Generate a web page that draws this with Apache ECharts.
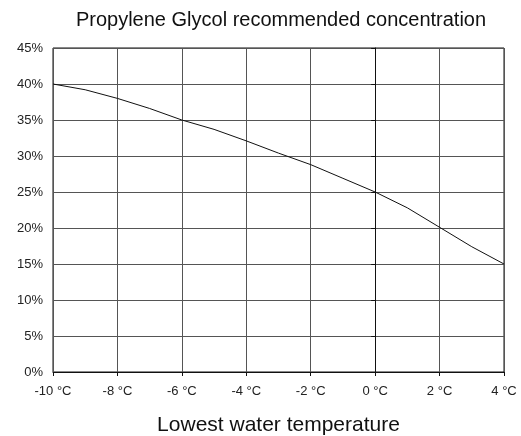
<!DOCTYPE html>
<html>
<head>
<meta charset="utf-8">
<script src="https://cdn.jsdelivr.net/npm/echarts@6/dist/echarts.min.js"></script>
<style>
  html, body { margin: 0; padding: 0; background: #fff; }
  #chart { width: 521px; height: 436px; }
</style>
</head>
<body>
<div id="chart"></div>
<script>
// lowest water temperature (°C) and recommended glycol concentration (%)
const temps = [-10, -9, -8, -7, -6, -5, -4, -3, -2, -1, 0, 1, 2, 3, 4]
const concentration = [40, 39.2, 38, 36.6, 35, 33.7, 32.1, 30.4, 28.8, 26.9, 25, 22.8, 20.1, 17.4, 15]

const chart = echarts.init(document.getElementById('chart'))

chart.setOption({
  backgroundColor: '#fff',
  animation: false,
  title: {
    text: 'Propylene Glycol recommended concentration',
    left: 276,
    textAlign: 'center',
    top: 5,
    textStyle: { color: '#111', fontSize: 20, fontWeight: 'normal', fontFamily: 'Liberation Sans' }
  },
  grid: {
    left: 53, right: 17, top: 48, bottom: 64,
    outerBoundsMode: 'none',
    containLabel: false,
    show: true, borderColor: '#111', borderWidth: 1
  },
  xAxis: {
    type: 'value',
    min: -10, max: 4, interval: 2,
    name: 'Lowest water temperature',
    nameLocation: 'middle',
    nameGap: 43,
    nameTextStyle: { color: '#111', fontSize: 21, fontFamily: 'Liberation Sans' },
    axisLine: { lineStyle: { color: '#111' } },
    axisTick: { show: true, length: 4, lineStyle: { color: '#111' } },
    axisLabel: { color: '#222', fontSize: 13, fontFamily: 'Liberation Sans', margin: 13, formatter: '{value} °C' },
    splitLine: { lineStyle: { color: '#555', width: 1 } }
  },
  yAxis: {
    type: 'value',
    min: 0, max: 45, interval: 5,
    axisLine: { show: true, lineStyle: { color: '#111' } },
    axisTick: { show: true, length: 4, lineStyle: { color: '#111' } },
    axisLabel: { color: '#222', fontSize: 13, fontFamily: 'Liberation Sans', margin: 10, formatter: '{value}%' },
    splitLine: { lineStyle: { color: '#555', width: 1 } }
  },
  series: [
    {
      type: 'line',
      data: temps.map((t, i) => [t, concentration[i]]),
      showSymbol: false,
      lineStyle: { color: '#111', width: 1 }
    }
  ]
})
</script>
</body>
</html>
